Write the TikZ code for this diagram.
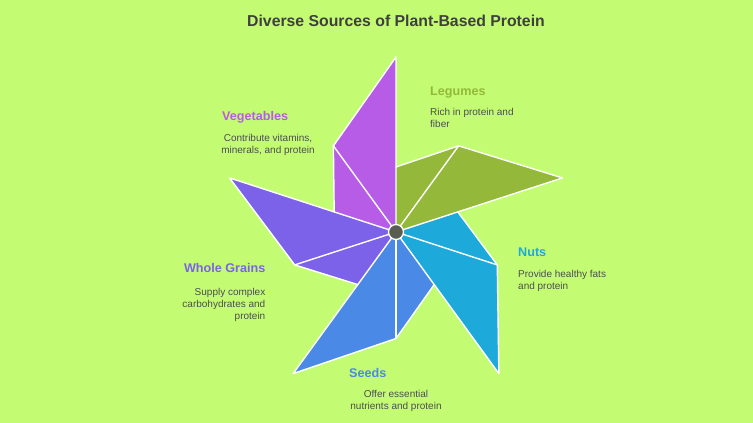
\documentclass[tikz,border=0pt]{standalone}
\usepackage{fontspec}
\setmainfont{Liberation Sans}
\usetikzlibrary{calc}
\definecolor{bg}{HTML}{C3FC72}
\definecolor{vegc}{HTML}{B65CE6}
\definecolor{legc}{HTML}{94B83A}
\definecolor{nutc}{HTML}{1EA9DB}
\definecolor{seec}{HTML}{4B89E6}
\definecolor{whgc}{HTML}{7C62E8}
\definecolor{hubc}{HTML}{5A5E52}
\definecolor{desctext}{HTML}{4D4D4D}
\definecolor{titletext}{HTML}{3F3F3F}
\tikzset{
  edge/.style={draw=white, line width=1.4pt, line join=round, line cap=round},
  label/.style={inner sep=0pt, font=\bfseries\fontsize{12.6}{14}\selectfont},
  desc/.style={inner sep=0pt, text=desctext, font=\fontsize{10}{12}\selectfont},
  titlestyle/.style={inner sep=0pt, text=titletext, font=\bfseries\fontsize{15.8}{18}\selectfont}
}
\begin{document}
\begin{tikzpicture}[x=1pt,y=-1pt]
\fill[bg] (0,0) rectangle (753,423);
\useasboundingbox (0,0) rectangle (753,423);
\coordinate (C) at (396,232);
\begin{scope}[shift={(C)}, yscale=-1]
\foreach \t/\c/\n in {90/vegc/V, 18/legc/L, -54/nutc/N, -126/seec/S, 162/whgc/W}{
  \coordinate (\n t) at (\t:175);
  \coordinate (\n e) at (\t+36:106.5);
  \coordinate (\n i) at (\t+72:65);
  \fill[\c] (0,0) -- (\n t) -- (\n e) -- (\n i) -- cycle;
}
\end{scope}
\foreach \n in {V,L,N,S,W}{
  \draw[edge] (C) -- (\n t) -- (\n e) -- (\n i);
  \draw[edge] (C) -- (\n e);
}
\node[circle, fill=hubc, draw=white, line width=1.3pt, minimum size=15pt, inner sep=0pt] (hub) at (C) {};

\node[titlestyle] (title) at (396,21) {Diverse Sources of Plant-Based Protein};

\node[label, text=legc, anchor=base west] (legl) at (430,95.3) {Legumes};
\node[desc, anchor=base west, align=left] (legd) at (430,127.3) {Rich in protein and\\fiber};

\node[label, text=vegc, anchor=base west] (vegl) at (222,120.3) {Vegetables};
\node[desc, anchor=base, align=center] (vegd) at (268,153.5) {Contribute vitamins,\\minerals, and protein};

\node[label, text=nutc, anchor=base west] (nutl) at (518,256) {Nuts};
\node[desc, anchor=base west, align=left] (nutd) at (518,289.3) {Provide healthy fats\\and protein};

\node[label, text=whgc, anchor=base east] (whgl) at (265.5,272.3) {Whole Grains};
\node[desc, anchor=base east, align=right] (whgd) at (265.5,319) {Supply complex\\carbohydrates and\\protein};

\node[label, text=seec, anchor=base west] (seel) at (349,377.3) {Seeds};
\node[desc, anchor=base, align=center] (seed) at (396,409.5) {Offer essential\\nutrients and protein};
\end{tikzpicture}
\end{document}
